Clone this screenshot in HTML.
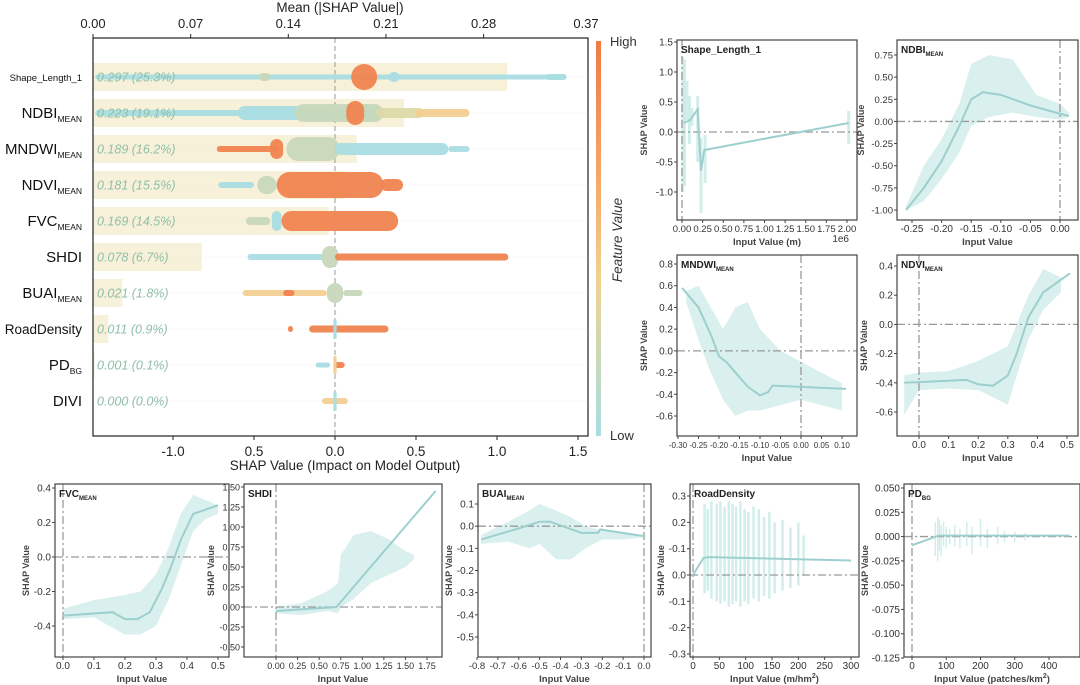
<!DOCTYPE html>
<html><head><meta charset="utf-8">
<style>
html,body{margin:0;padding:0;background:#fff;}
svg{display:block;font-family:"Liberation Sans","DejaVu Sans",sans-serif;}
</style></head>
<body>
<svg id="fig" width="1080" height="685" viewBox="0 0 1080 685" xmlns="http://www.w3.org/2000/svg">
<defs>
<linearGradient id="cbar" x1="0" y1="0" x2="0" y2="1">
<stop offset="0" stop-color="#f07a45"/><stop offset="0.35" stop-color="#f5a86a"/>
<stop offset="0.6" stop-color="#f1d18f"/><stop offset="0.8" stop-color="#c9d9b8"/>
<stop offset="1" stop-color="#a9dde3"/></linearGradient>
</defs>
<g id="main"></g>
<g id="panels"></g>
</svg>
<script>
const NS="http://www.w3.org/2000/svg";
function mk(parent,tag,attrs,text){const e=document.createElementNS(NS,tag);for(const k in attrs)e.setAttribute(k,attrs[k]);if(text!==undefined)e.textContent=text;parent.appendChild(e);return e;}

// ---------- main summary data ----------
const features=["Shape_Length_1","NDBI","MNDWI","NDVI","FVC","SHDI","BUAI","RoadDensity","PD","DIVI"];
const featureSubs=["","MEAN","MEAN","MEAN","MEAN","","MEAN","","BG",""];
const meanAbs=[0.297,0.223,0.189,0.181,0.169,0.078,0.021,0.011,0.001,0.000];
const meanPct=["25.3%","19.1%","16.2%","15.5%","14.5%","6.7%","1.8%","0.9%","0.1%","0.0%"];
const topTicks=[0,0.07,0.14,0.21,0.28];
const topTickLabels=["0.00","0.07","0.14","0.21","0.28"];
const shapTicks=[-1.0,-0.5,0.0,0.5,1.0,1.5];
const shapTickLabels=["-1.0","0.5","0.0","0.5","1.0","1.5"];
// swarm segments per feature: [from, to, halfHeight, colorKey]
const swarmShape=[[-1.48,1.43,2.5,"b"],[-0.47,-0.40,4,"g"],[0.33,0.40,5,"b"],[0.1,0.26,13,"o"],[1.3,1.43,3,"b"]];
const swarmNDBI=[[-1.48,-0.2,3,"b"],[-0.6,0.3,7,"b"],[-0.25,0.3,9,"g"],[0.25,0.55,5,"y"],[0.5,0.83,4,"c"],[0.07,0.18,12,"o"]];
const swarmMNDWI=[[-0.73,-0.35,3,"o"],[-0.40,-0.32,10,"o"],[-0.30,0.03,12,"g"],[0.0,0.70,6,"b"],[0.70,0.83,3,"b"]];
const swarmNDVI=[[-0.72,-0.5,3,"b"],[-0.48,-0.36,9,"g"],[-0.36,0.30,13,"o"],[0.28,0.42,6,"o"]];
const swarmFVC=[[-0.55,-0.40,4,"g"],[-0.39,-0.33,10,"b"],[-0.33,0.39,10,"o"]];
const swarmSHDI=[[-0.54,-0.05,3,"b"],[-0.08,0.02,11,"g"],[0.0,1.07,3.5,"o"]];
const swarmBUAI=[[-0.57,-0.05,3,"c"],[-0.32,-0.25,3,"o"],[-0.05,0.05,10,"g"],[0.05,0.17,3,"g"]];
const swarmRoad=[[-0.29,-0.26,3,"o"],[-0.16,0.33,3.5,"o"],[-0.01,0.01,10,"b"]];
const swarmPD=[[-0.12,-0.03,2.5,"b"],[-0.01,0.06,3,"o"],[-0.01,0.01,9,"c"]];
const swarmDIVI=[[-0.08,0.08,3,"c"],[-0.01,0.01,10,"b"]];
const swarms=[swarmShape,swarmNDBI,swarmMNDWI,swarmNDVI,swarmFVC,swarmSHDI,swarmBUAI,swarmRoad,swarmPD,swarmDIVI];
const colorMap={b:"#a9dde3",o:"#f08450",g:"#c8d8bb",y:"#dcd9a9",c:"#f3cf92"};

(function(){
 const g=document.getElementById('main');
 const L=93,R=588,T=38,B=436;
 const xTop=v=>L+v*1395;
 const xS=v=>335+v*162;
 const yRow=i=>77+i*36;
 meanAbs.forEach((v,i)=>{
  const r=mk(g,'rect',{x:L,y:yRow(i)-14,width:Math.max(xTop(v)-L,0),height:28,fill:"#f8f1da"});
  
  
 });
 features.forEach((f,i)=>{mk(g,'line',{x1:L,x2:R,y1:yRow(i),y2:yRow(i),stroke:"#e4e4e4","stroke-dasharray":"1 3"});});
 mk(g,'line',{x1:xS(0),x2:xS(0),y1:T,y2:B,stroke:"#999","stroke-dasharray":"5 3"});
 swarms.forEach((segs,i)=>{
  segs.forEach(s=>{
   const x1=xS(s[0]),x2=xS(s[1]);
   const r=mk(g,'rect',{x:x1,y:yRow(i)-s[2],width:Math.max(x2-x1,2),height:2*s[2],rx:Math.min(s[2],(x2-x1)/2),fill:colorMap[s[3]],opacity:0.95});
   
   
  });
 });
 meanAbs.forEach((v,i)=>{
  const t=mk(g,'text',{x:97,y:yRow(i)+4.5,"font-size":12.5,"font-style":"italic",fill:"#8fbfa8"},v.toFixed(3)+" ("+meanPct[i]+")");
  
  
 });
 features.forEach((f,i)=>{
  const small=i===0;
  const t=mk(g,'text',{x:82,y:yRow(i)+(small?4:5),"text-anchor":"end","font-size":small?9.5:(f.length>6?13.5:15),fill:"#111"});
  
  
  mk(t,'tspan',{},f);
  if(featureSubs[i]) mk(t,'tspan',{"font-size":8.5,dy:4},featureSubs[i]);
 });
 mk(g,'rect',{x:L,y:T,width:R-L,height:B-T,fill:"none",stroke:"#222","stroke-width":1.2});
 topTicks.forEach((v,i)=>{mk(g,'line',{x1:xTop(v),x2:xTop(v),y1:T,y2:T-4,stroke:"#222"});
  mk(g,'text',{x:xTop(v),y:T-10,"text-anchor":"middle","font-size":13,fill:"#222"},topTickLabels[i]);});
 mk(g,'text',{x:R-2,y:T-10,"text-anchor":"middle","font-size":13,fill:"#222"},"0.37");
 const tt=mk(g,'text',{x:340,y:12,"text-anchor":"middle","font-size":13.5,fill:"#222"},"Mean (|SHAP Value|)");
 
 shapTicks.forEach((v,i)=>{mk(g,'line',{x1:xS(v),x2:xS(v),y1:B,y2:B+4,stroke:"#222"});
  mk(g,'text',{x:xS(v),y:B+20,"text-anchor":"middle","font-size":13.5,fill:"#222"},shapTickLabels[i]);});
 const bt=mk(g,'text',{x:345,y:B+34,"text-anchor":"middle","font-size":13.5,fill:"#222"},"SHAP Value (Impact on Model Output)");
 
 const cb=mk(g,'rect',{x:596,y:41,width:5,height:395,fill:"url(#cbar)"});
 
 mk(g,'text',{x:610,y:46,"font-size":13,fill:"#333"},"High");
 mk(g,'text',{x:610,y:440,"font-size":13,fill:"#333"},"Low");
 const ft=mk(g,'text',{x:622,y:240,"font-size":13.5,"font-style":"italic",fill:"#333","text-anchor":"middle",transform:"rotate(-90 622 240)"},"Feature Value");
 
})();

// ---------- dependence panels data ----------
const shapeTicksX=[0,0.25,0.5,0.75,1.0,1.25,1.5,1.75,2.0];
const shapeTicksY=[1.5,1.0,0.5,0.0,-0.5,-1.0];
const shapeCurveX=[0.02,0.1,0.19,0.23,0.27,2.02];
const shapeCurveY=[0.15,0.2,0.38,-0.65,-0.3,0.15];
const shapeStreakX=[0.01,0.03,0.06,0.09,0.12,0.19,0.23,0.28,2.02];
const shapeStreakLo=[-1.0,-0.9,0.2,-0.2,0.1,-0.5,-1.35,-0.85,-0.2];
const shapeStreakHi=[1.25,1.2,0.85,0.6,0.4,0.6,-0.1,-0.05,0.35];

const ndbiTicksX=[-0.25,-0.20,-0.15,-0.10,-0.05,0.00];
const ndbiTicksY=[0.75,0.5,0.25,0.0,-0.25,-0.5,-0.75,-1.0];
const ndbiCurveX=[-0.26,-0.23,-0.2,-0.17,-0.15,-0.13,-0.1,-0.05,0.015];
const ndbiCurveY=[-1.0,-0.75,-0.45,-0.05,0.25,0.33,0.3,0.18,0.06];
const ndbiBandX=[-0.26,-0.23,-0.2,-0.17,-0.15,-0.12,-0.08,-0.04,0.0,0.015];
const ndbiBandLo=[-1.0,-0.9,-0.65,-0.35,-0.05,0.05,0.1,0.05,0.02,0.05];
const ndbiBandHi=[-0.95,-0.5,-0.2,0.2,0.65,0.75,0.7,0.3,0.2,0.1];

const mndwiTicksX=[-0.30,-0.25,-0.20,-0.15,-0.10,-0.05,0.00,0.05,0.10];
const mndwiTicksY=[0.8,0.6,0.4,0.2,0.0,-0.2,-0.4,-0.6];
const mndwiCurveX=[-0.29,-0.25,-0.22,-0.2,-0.18,-0.16,-0.13,-0.1,-0.08,-0.07,0.11];
const mndwiCurveY=[0.58,0.4,0.15,-0.05,-0.11,-0.2,-0.33,-0.41,-0.38,-0.32,-0.35];
const mndwiBandX=[-0.28,-0.25,-0.22,-0.19,-0.16,-0.13,-0.1,-0.05,0.0,0.05,0.1];
const mndwiBandLo=[0.45,0.1,-0.2,-0.45,-0.6,-0.55,-0.55,-0.5,-0.45,-0.5,-0.55];
const mndwiBandHi=[0.55,0.6,0.4,0.2,0.4,0.45,0.2,0.0,-0.1,-0.2,-0.3];

const ndviTicksX=[0.0,0.1,0.2,0.3,0.4,0.5];
const ndviTicksY=[0.4,0.2,0.0,-0.2,-0.4,-0.6];
const ndviCurveX=[-0.05,0.0,0.16,0.2,0.25,0.3,0.33,0.37,0.42,0.51];
const ndviCurveY=[-0.4,-0.395,-0.38,-0.41,-0.42,-0.35,-0.2,0.05,0.22,0.35];
const ndviBandX=[-0.05,0,0.1,0.2,0.25,0.3,0.33,0.37,0.42,0.48];
const ndviBandLo=[-0.62,-0.45,-0.44,-0.45,-0.5,-0.55,-0.35,-0.1,0.1,0.22];
const ndviBandHi=[-0.35,-0.33,-0.32,-0.25,-0.2,-0.15,0.0,0.2,0.38,0.32];

const fvcTicksX=[0.0,0.1,0.2,0.3,0.4,0.5];
const fvcTicksY=[0.4,0.2,0.0,-0.2,-0.4];
const fvcCurveX=[0,0.16,0.2,0.24,0.28,0.32,0.35,0.38,0.42,0.5];
const fvcCurveY=[-0.34,-0.32,-0.36,-0.36,-0.32,-0.18,-0.05,0.1,0.25,0.3];
const fvcBandX=[0,0.1,0.2,0.25,0.3,0.34,0.38,0.42,0.46,0.5];
const fvcBandLo=[-0.36,-0.35,-0.45,-0.45,-0.4,-0.25,-0.05,0.15,0.22,0.25];
const fvcBandHi=[-0.3,-0.25,-0.22,-0.2,-0.1,0.05,0.25,0.36,0.33,0.3];

const shdiTicksX=[0,0.25,0.5,0.75,1.0,1.25,1.5,1.75];
const shdiTicksY=[1.5,1.25,1.0,0.75,0.5,0.25,0.0,-0.25,-0.5];
const shdiCurveX=[0,0.7,1.85];
const shdiCurveY=[-0.05,0,1.45];
const shdiBandX=[0,0.3,0.6,0.72,0.75,0.9,1.1,1.3,1.5,1.6];
const shdiBandLo=[-0.08,-0.1,-0.05,-0.08,0.0,0.1,0.3,0.4,0.5,0.6];
const shdiBandHi=[0,0.05,0.2,0.3,0.65,0.9,0.95,0.85,0.7,0.65];

const buaiTicksX=[-0.8,-0.7,-0.6,-0.5,-0.4,-0.3,-0.2,-0.1,0.0];
const buaiTicksY=[0.1,0.0,-0.1,-0.2,-0.3,-0.4,-0.5];
const buaiCurveX=[-0.78,-0.6,-0.5,-0.45,-0.3,-0.22,-0.21,0];
const buaiCurveY=[-0.06,-0.01,0.02,0.02,-0.03,-0.03,-0.015,-0.045];
const buaiBandX=[-0.78,-0.65,-0.55,-0.5,-0.42,-0.35,-0.28,-0.2,-0.1,0];
const buaiBandLo=[-0.08,-0.07,-0.1,-0.08,-0.15,-0.15,-0.1,-0.06,-0.06,-0.05];
const buaiBandHi=[-0.04,0.02,0.07,0.1,0.07,0.04,0.0,-0.02,-0.03,-0.04];

const roadTicksX=[0,50,100,150,200,250,300];
const roadTicksY=[0.3,0.2,0.1,0.0,-0.1,-0.2,-0.3];
const roadTickLabelsY=["0.3","0.2","-0.1","0.0","-0.1","-0.2","-0.3"];
const roadCurveX=[0,20,30,300];
const roadCurveY=[0,0.065,0.068,0.055];
const roadStreakX=[22,28,35,45,52,60,68,75,82,90,98,105,115,125,135,145,155,170,185,200,210];
const roadStreakLo=[-0.07,-0.06,-0.09,-0.1,-0.11,-0.1,-0.12,-0.11,-0.1,-0.12,-0.1,-0.11,-0.09,-0.1,-0.08,-0.09,-0.07,-0.06,-0.05,-0.04,0.0];
const roadStreakHi=[0.27,0.25,0.28,0.27,0.28,0.26,0.28,0.27,0.26,0.28,0.25,0.24,0.26,0.25,0.22,0.24,0.2,0.21,0.18,0.2,0.15];

const pdTicksX=[0,100,200,300,400];
const pdTicksY=[0.05,0.025,0.0,-0.025,-0.05,-0.075,-0.1,-0.125];
const pdCurveX=[0,70,80,460];
const pdCurveY=[-0.009,0,0.001,0.001];
const pdStreakX=[68,75,80,85,92,100,110,125,140,160,175,200,220,250,270,300,330];
const pdStreakLo=[-0.02,-0.025,-0.015,-0.02,-0.01,-0.012,-0.008,-0.01,-0.012,-0.01,-0.018,-0.01,-0.012,-0.008,-0.006,-0.006,-0.004];
const pdStreakHi=[0.015,0.02,0.018,0.012,0.015,0.01,0.008,0.012,0.008,0.015,0.01,0.018,0.008,0.01,0.006,0.005,0.004];

function fmt(v,d){return v.toFixed(d);}
function panel(c){
 const g=mk(document.getElementById('panels'),'g',{});
 
 
 const X=v=>c.px0+(v-c.vx0)*(c.px1-c.px0)/(c.vx1-c.vx0);
 const Y=v=>c.py0+(v-c.vy0)*(c.py1-c.py0)/(c.vy1-c.vy0);
 const clipId='clip-'+c.name;
 const cp=mk(g,'clipPath',{id:clipId});mk(cp,'rect',{x:c.L,y:c.T,width:c.R-c.L,height:c.B-c.T});
 const inner=mk(g,'g',{"clip-path":"url(#"+clipId+")"});
 if(c.bandX){
  let pts=c.bandX.map((x,i)=>X(x)+","+Y(c.bandHi[i]));
  pts=pts.concat(c.bandX.slice().reverse().map((x,j)=>{const i=c.bandX.length-1-j;return X(x)+","+Y(c.bandLo[i]);}));
  const p=mk(inner,'polygon',{points:pts.join(" "),fill:"#bfe6e2",opacity:0.6});
  
  
 }
 if(c.streakX){
  c.streakX.forEach((x,i)=>{
   const l=mk(inner,'line',{x1:X(x),x2:X(x),y1:Y(c.streakLo[i]),y2:Y(c.streakHi[i]),stroke:"#c8eae6","stroke-width":c.sw||2,opacity:0.8});
   
   
  });
 }
 mk(inner,'line',{x1:c.L,x2:c.R,y1:Y(0),y2:Y(0),stroke:"#999","stroke-width":1.3,"stroke-dasharray":"8 3 2 3"});
 mk(inner,'line',{x1:X(0),x2:X(0),y1:c.T,y2:c.B,stroke:"#999","stroke-width":1.3,"stroke-dasharray":"8 3 2 3"});
 const cv=mk(inner,'polyline',{points:c.cx.map((x,i)=>X(x)+","+Y(c.cy[i])).join(" "),fill:"none",stroke:"#9dcfcf","stroke-width":2});
 
 
 mk(g,'rect',{x:c.L,y:c.T,width:c.R-c.L,height:c.B-c.T,fill:"none",stroke:"#444","stroke-width":1.2});
 c.tx.forEach((v,i)=>{mk(g,'line',{x1:X(v),x2:X(v),y1:c.B,y2:c.B+3,stroke:"#444"});
  mk(g,'text',{x:X(v),y:c.B+12,"text-anchor":"middle","font-size":c.fx||10,fill:"#333"},c.txl?c.txl[i]:fmt(v,c.dx));});
 c.ty.forEach((v,i)=>{mk(g,'line',{x1:c.L,x2:c.L-3,y1:Y(v),y2:Y(v),stroke:"#444"});
  mk(g,'text',{x:c.L-4,y:Y(v)+3.5,"text-anchor":"end","font-size":c.fy||10,fill:"#333"},c.tyl?c.tyl[i]:fmt(v,c.dy));});
 const xl=mk(g,'text',{x:(c.L+c.R)/2,y:c.B+25,"text-anchor":"middle","font-size":9.5,"font-weight":"bold",fill:"#444"});
 
 mk(xl,'tspan',{},c.xlab);if(c.xsup){mk(xl,'tspan',{"font-size":7,dy:-4},c.xsup);mk(xl,'tspan',{dy:4},")");}
 const yx=c.L-(c.ylOff||30),yy=(c.T+c.B)/2;
 const yl=mk(g,'text',{x:yx,y:yy,"text-anchor":"middle","font-size":9,"font-weight":"bold",fill:"#444",transform:"rotate(-90 "+yx+" "+yy+")"},"SHAP Value");
 
 const tt=mk(g,'text',{x:c.L+4,y:c.T+13,"font-size":10,"font-weight":"bold",fill:"#222"});
 
 mk(tt,'tspan',{},c.title);if(c.sub)mk(tt,'tspan',{"font-size":6,dy:3},c.sub);
 if(c.extra)mk(g,'text',{x:c.R-8,y:c.B+22,"text-anchor":"end","font-size":10,fill:"#333"},c.extra);
}

panel({name:"dependence-shape-length",L:677,R:857,T:40,B:220,px0:682,px1:847,vx0:0,vx1:2,py0:42,py1:192,vy0:1.5,vy1:-1.0,
 tx:shapeTicksX,ty:shapeTicksY,dx:2,dy:1,cx:shapeCurveX,cy:shapeCurveY,streakX:shapeStreakX,streakLo:shapeStreakLo,streakHi:shapeStreakHi,sw:3,
 xlab:"Input Value (m)",title:"Shape_Length_1",extra:"1e6",fx:9.5});
panel({name:"dependence-ndbi",L:897,R:1078,T:40,B:220,px0:912,px1:1060,vx0:-0.25,vx1:0,py0:55,py1:210,vy0:0.75,vy1:-1.0,
 tx:ndbiTicksX,ty:ndbiTicksY,dx:2,dy:2,cx:ndbiCurveX,cy:ndbiCurveY,bandX:ndbiBandX,bandLo:ndbiBandLo,bandHi:ndbiBandHi,
 xlab:"Input Value",title:"NDBI",sub:"MEAN",ylOff:33,fy:9.5});
panel({name:"dependence-mndwi",L:677,R:857,T:255,B:436,px0:678,px1:842,vx0:-0.3,vx1:0.1,py0:264,py1:416,vy0:0.8,vy1:-0.6,
 tx:mndwiTicksX,ty:mndwiTicksY,dx:2,dy:1,cx:mndwiCurveX,cy:mndwiCurveY,bandX:mndwiBandX,bandLo:mndwiBandLo,bandHi:mndwiBandHi,
 xlab:"Input Value",title:"MNDWI",sub:"MEAN",fx:8});
panel({name:"dependence-ndvi",L:897,R:1078,T:255,B:436,px0:919,px1:1067,vx0:0,vx1:0.5,py0:266,py1:412,vy0:0.4,vy1:-0.6,
 tx:ndviTicksX,ty:ndviTicksY,dx:1,dy:1,cx:ndviCurveX,cy:ndviCurveY,bandX:ndviBandX,bandLo:ndviBandLo,bandHi:ndviBandHi,
 xlab:"Input Value",title:"NDVI",sub:"MEAN"});
panel({name:"dependence-fvc",L:55,R:229,T:484,B:657,px0:63,px1:218,vx0:0,vx1:0.5,py0:488,py1:626,vy0:0.4,vy1:-0.4,
 tx:fvcTicksX,ty:fvcTicksY,dx:1,dy:1,cx:fvcCurveX,cy:fvcCurveY,bandX:fvcBandX,bandLo:fvcBandLo,bandHi:fvcBandHi,
 xlab:"Input Value",title:"FVC",sub:"MEAN",ylOff:26});
panel({name:"dependence-shdi",L:244,R:442,T:484,B:657,px0:276,px1:427,vx0:0,vx1:1.75,py0:487,py1:647,vy0:1.5,vy1:-0.5,
 tx:shdiTicksX,ty:shdiTicksY,dx:2,dy:2,cx:shdiCurveX,cy:shdiCurveY,bandX:shdiBandX,bandLo:shdiBandLo,bandHi:shdiBandHi,
 xlab:"Input Value",title:"SHDI",ylOff:30,fx:9,fy:9});
panel({name:"dependence-buai",L:478,R:651,T:484,B:657,px0:477,px1:644,vx0:-0.8,vx1:0,py0:504,py1:637,vy0:0.1,vy1:-0.5,
 tx:buaiTicksX,ty:buaiTicksY,dx:1,dy:1,cx:buaiCurveX,cy:buaiCurveY,bandX:buaiBandX,bandLo:buaiBandLo,bandHi:buaiBandHi,
 xlab:"Input Value",title:"BUAI",sub:"MEAN",ylOff:26,fx:9.5});
panel({name:"dependence-roaddensity",L:690,R:859,T:484,B:657,px0:693,px1:851,vx0:0,vx1:300,py0:496,py1:654,vy0:0.3,vy1:-0.3,
 tx:roadTicksX,ty:roadTicksY,tyl:roadTickLabelsY,dx:0,dy:1,cx:roadCurveX,cy:roadCurveY,streakX:roadStreakX,streakLo:roadStreakLo,streakHi:roadStreakHi,sw:2.5,
 xlab:"Input Value (m/hm",xsup:"2",title:"RoadDensity",ylOff:26});
panel({name:"dependence-pd",L:904,R:1080,T:484,B:657,px0:912,px1:1049,vx0:0,vx1:400,py0:488,py1:658,vy0:0.05,vy1:-0.125,
 tx:pdTicksX,ty:pdTicksY,dx:0,dy:3,cx:pdCurveX,cy:pdCurveY,streakX:pdStreakX,streakLo:pdStreakLo,streakHi:pdStreakHi,sw:1.5,
 xlab:"Input Value (patches/km",xsup:"2",title:"PD",sub:"BG",ylOff:36});
</script>
</body></html>
